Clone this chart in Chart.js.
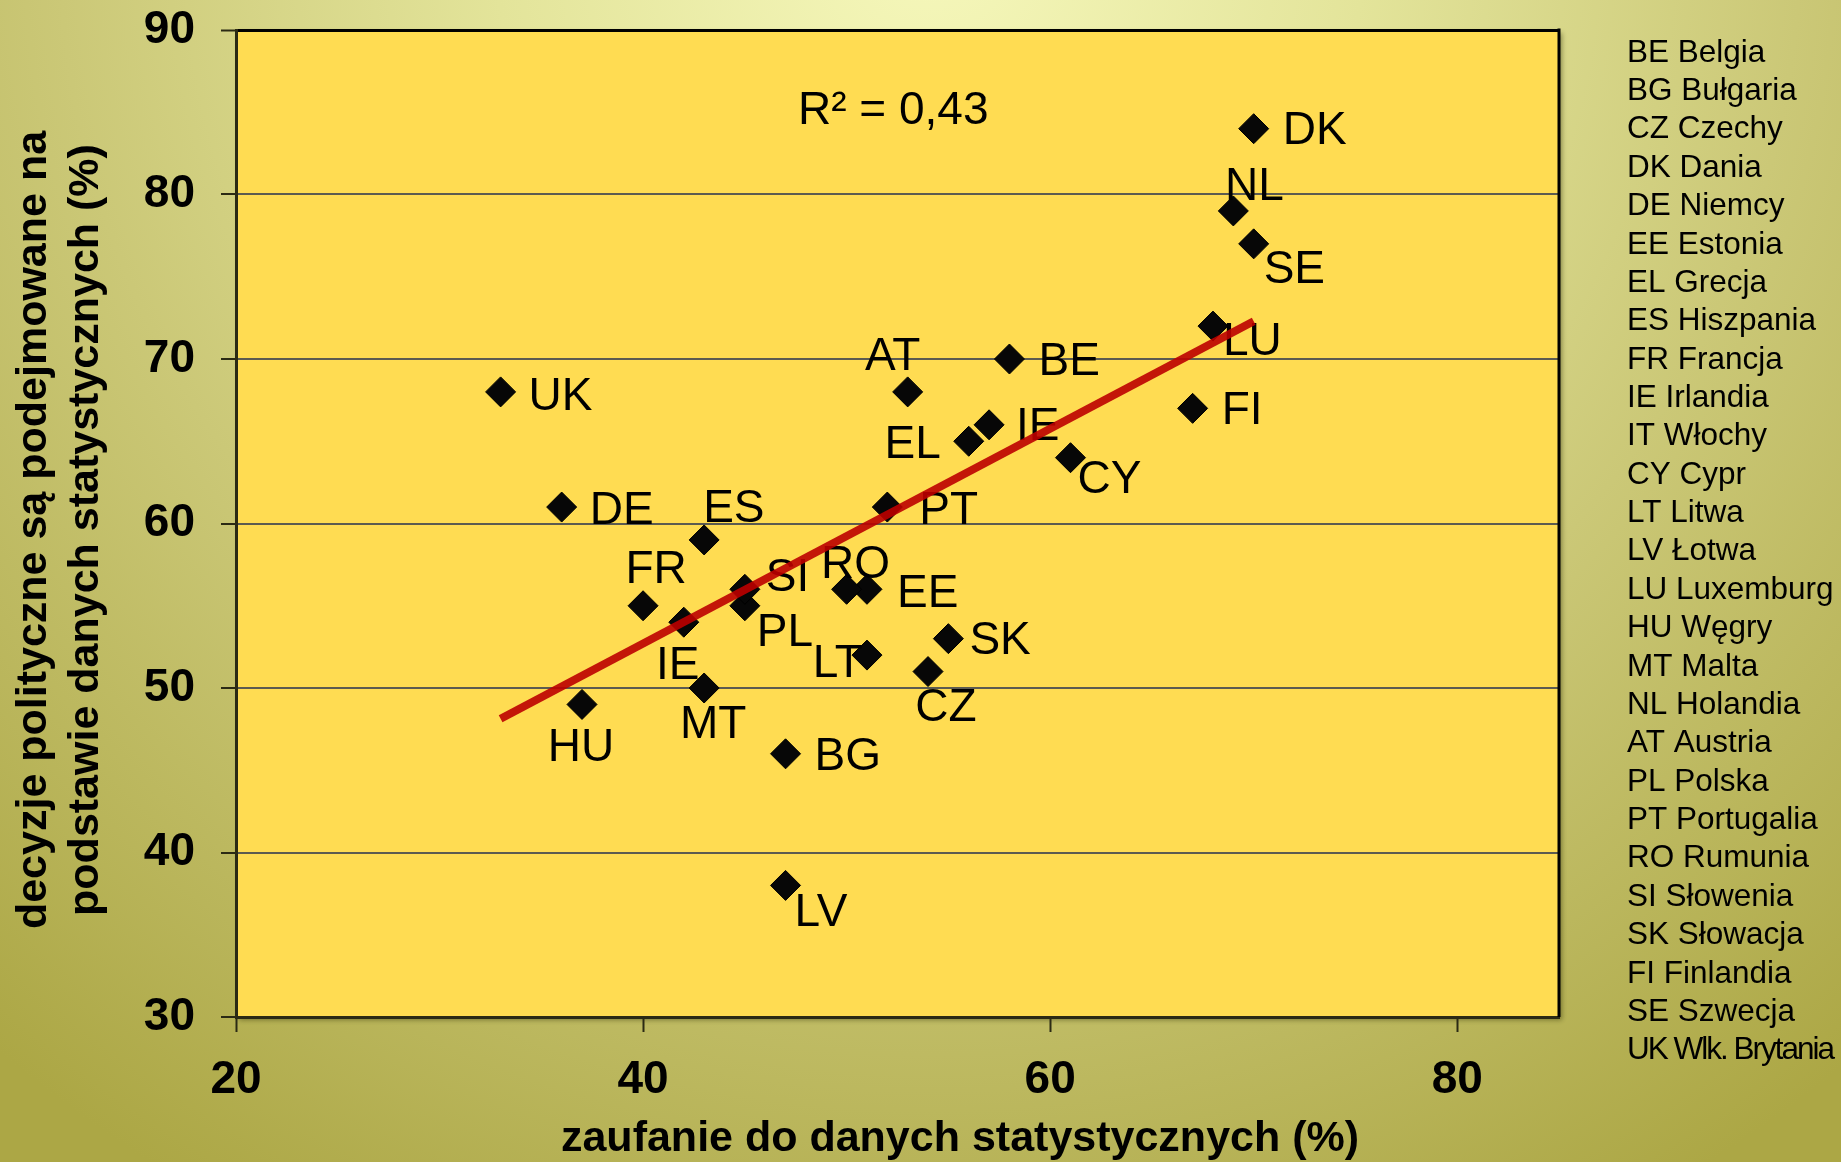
<!DOCTYPE html>
<html lang="pl">
<head>
<meta charset="utf-8">
<title>Zaufanie do danych statystycznych</title>
<script src="https://cdn.jsdelivr.net/npm/chart.js@4.4.1/dist/chart.umd.min.js"></script>
<style>
  html, body { margin: 0; padding: 0; overflow: hidden; background: #c9c57c; }
  canvas { display: block; }
</style>
</head>
<body>
<canvas id="chart" width="1841" height="1162"></canvas>
<script>
// Country codes and names (legend order)
const codes = ['BE','BG','CZ','DK','DE','EE','EL','ES','FR','IE','IT','CY','LT','LV','LU','HU','MT','NL','AT','PL','PT','RO','SI','SK','FI','SE','UK'];
const countryNames = ['Belgia','Bułgaria','Czechy','Dania','Niemcy','Estonia','Grecja','Hiszpania','Francja','Irlandia','Włochy','Cypr','Litwa','Łotwa','Luxemburg','Węgry','Malta','Holandia','Austria','Polska','Portugalia','Rumunia','Słowenia','Słowacja','Finlandia','Szwecja','Wlk. Brytania'];
// Labels written next to the markers
const pointLabels = ['BE','BG','CZ','DK','DE','EE','EL','ES','FR','IE','IE','CY','LT','LV','LU','HU','MT','NL','AT','PL','PT','RO','SI','SK','FI','SE','UK'];

// zaufanie do danych statystycznych (%)
const trustInStatistics = [58, 47, 54, 70, 36, 51, 56, 43, 40, 42, 57, 61, 51, 47, 68, 37, 43, 69, 53, 45, 52, 50, 45, 55, 67, 70, 33];
// decyzje polityczne są podejmowane na podstawie danych statystycznych (%)
const decisionsOnStatistics = [70, 46, 51, 84, 61, 56, 65, 59, 55, 54, 66, 64, 52, 38, 72, 49, 50, 79, 68, 55, 61, 56, 56, 53, 67, 77, 68];

const xTicks = [20, 40, 60, 80];
const yTicks = [30, 40, 50, 60, 70, 80, 90];

const xTitle = 'zaufanie do danych statystycznych (%)';
const yTitleLines = ['decyzje polityczne są podejmowane na', 'podstawie danych statystycznych (%)'];

// Where each code label sits relative to its marker: [align, dx, dy]
const labelPlacement = {
  BE: ['left', 29, 0],   BG: ['left', 29, 1],    CZ: ['center', 18, 34], DK: ['left', 29, 0],
  DE: ['left', 28, 1],   EE: ['left', 30, 2],    EL: ['right', -28, 1],  ES: ['left', -1, -34],
  FR: ['center', 13, -38], IE: ['center', -6, 41], IT: ['left', 27, 0],  CY: ['left', 7, 20],
  LT: ['right', -4, 6],  LV: ['left', 9, 25],    LU: ['left', 10, 13],   HU: ['center', -1, 41],
  MT: ['center', 9, 34], NL: ['center', 21, -27], AT: ['center', -15, -38], PL: ['left', 12, 25],
  PT: ['left', 32, 1],   RO: ['center', 9, -27], SI: ['left', 21, -14],  SK: ['left', 21, 0],
  FI: ['left', 29, 0],   SE: ['left', 10, 23],   UK: ['left', 28, 2]
};
const LABEL_SHIFT = 3;

// Least-squares trend line and its R²
const n = trustInStatistics.length;
const mx = trustInStatistics.reduce((a, b) => a + b, 0) / n;
const my = decisionsOnStatistics.reduce((a, b) => a + b, 0) / n;
let sxy = 0, sxx = 0, syy = 0;
for (let i = 0; i < n; i++) {
  const dx = trustInStatistics[i] - mx, dy = decisionsOnStatistics[i] - my;
  sxy += dx * dy; sxx += dx * dx; syy += dy * dy;
}
const slope = sxy / sxx;
const intercept = my - slope * mx;
const rSquared = (sxy * sxy) / (sxx * syy);
const xMin = Math.min(...trustInStatistics), xMax = Math.max(...trustInStatistics);
const trendPoints = [xMin, xMax].map(x => ({ x, y: intercept + slope * x }));

const points = trustInStatistics.map((x, i) => ({ x, y: decisionsOnStatistics[i] }));

const FONT = "'Liberation Sans', Arial, Helvetica, sans-serif";
const AXIS_DARK = '#2b2a14';

const backdrop = {
  id: 'backdrop',
  beforeDraw(chart) {
    const { ctx, width, height, chartArea: a } = chart;
    ctx.save();
    const g = ctx.createRadialGradient(930, -60, 0, 930, -60, 1450);
    g.addColorStop(0, '#f6f8bc');
    g.addColorStop(0.3, '#e3e49a');
    g.addColorStop(0.6, '#cbc877');
    g.addColorStop(1, '#aca745');
    ctx.fillStyle = g;
    ctx.fillRect(0, 0, width, height);
    ctx.shadowColor = 'rgba(40,40,0,0.45)';
    ctx.shadowBlur = 5;
    ctx.shadowOffsetX = 3;
    ctx.shadowOffsetY = 3;
    ctx.fillStyle = '#ffdc52';
    ctx.fillRect(a.left, a.top, a.right - a.left, a.bottom - a.top);
    ctx.restore();
  }
};

const codeLabels = {
  id: 'codeLabels',
  afterDatasetDraw(chart, args) {
    if (args.index !== 0) return;
    const { ctx } = chart;
    const xs = chart.scales.x, ys = chart.scales.y;
    ctx.save();
    ctx.font = `46px ${FONT}`;
    ctx.fillStyle = '#000';
    ctx.textBaseline = 'middle';
    points.forEach((p, i) => {
      const [align, dx, dy] = labelPlacement[codes[i]];
      ctx.textAlign = align;
      ctx.fillText(pointLabels[i], xs.getPixelForValue(p.x) + dx, ys.getPixelForValue(p.y) + dy + LABEL_SHIFT);
    });
    ctx.restore();
  }
};

const frameAndText = {
  id: 'frameAndText',
  afterDraw(chart) {
    const { ctx, chartArea: a } = chart;
    ctx.save();
    // right edge of the plot frame
    ctx.strokeStyle = '#000';
    ctx.lineWidth = 3;
    ctx.beginPath();
    ctx.moveTo(a.right, a.top - 1.5);
    ctx.lineTo(a.right, a.bottom);
    ctx.stroke();

    ctx.fillStyle = '#000';
    // R² of the trend line
    ctx.font = `46px ${FONT}`;
    ctx.textAlign = 'left';
    ctx.textBaseline = 'middle';
    ctx.fillText('R² = ' + rSquared.toFixed(2).replace('.', ','), 798, 111);

    // axis titles
    ctx.font = `bold 43px ${FONT}`;
    ctx.textAlign = 'center';
    ctx.fillText(xTitle, 960, 1139);
    ctx.save();
    ctx.translate(60, 530);
    ctx.rotate(-Math.PI / 2);
    ctx.fillText(yTitleLines[0], 0, -26);
    ctx.fillText(yTitleLines[1], 0, 26);
    ctx.restore();

    // country legend
    ctx.font = `31.5px ${FONT}`;
    ctx.textAlign = 'left';
    codes.forEach((c, i) => {
      const y = 53 + i * 38.37;
      if (c === 'UK') ctx.letterSpacing = '-2px';
      ctx.fillText(c + ' ' + countryNames[i], 1627, y);
      ctx.letterSpacing = '0px';
    });
    ctx.restore();
  }
};

new Chart(document.getElementById('chart'), {
  data: {
    datasets: [
      {
        type: 'scatter',
        data: points,
        order: 1,
        pointStyle: 'rectRot',
        pointRadius: 15,
        pointBackgroundColor: '#070707',
        pointBorderColor: '#000',
        pointBorderWidth: 1
      },
      {
        type: 'line',
        data: trendPoints,
        order: 0,
        borderColor: 'rgba(188,0,0,0.9)',
        borderWidth: 8,
        pointRadius: 0,
        fill: false,
        tension: 0
      }
    ]
  },
  options: {
    responsive: false,
    animation: false,
    devicePixelRatio: 1,
    events: [],
    layout: { padding: { top: 30, right: 282, left: 0, bottom: 0 } },
    plugins: { legend: { display: false }, tooltip: { enabled: false }, title: { display: false } },
    scales: {
      x: {
        type: 'linear',
        min: 20,
        max: 85,
        afterBuildTicks(s) { s.ticks = xTicks.map(v => ({ value: v })); },
        afterFit(s) { s.height = 145; s.paddingLeft = 0; s.paddingRight = 0; },
        grid: { drawOnChartArea: false, drawTicks: true, tickLength: 15, tickColor: AXIS_DARK, tickWidth: 2 },
        border: { display: true, color: AXIS_DARK, width: 3 },
        ticks: { padding: 21, color: '#000', font: { family: FONT, size: 46, weight: 'bold' }, maxRotation: 0 }
      },
      y: {
        type: 'linear',
        min: 30,
        max: 90,
        afterBuildTicks(s) { s.ticks = yTicks.map(v => ({ value: v })); },
        afterFit(s) { s.width = 236; s.paddingTop = 0; s.paddingBottom = 0; },
        grid: {
          drawOnChartArea: true,
          tickLength: 15,
          tickColor: AXIS_DARK,
          tickWidth: 2,
          color: c => (c.tick && c.tick.value === 90) ? '#000' : '#5c5b50',
          lineWidth: c => (c.tick && c.tick.value === 90) ? 3 : 2
        },
        border: { display: true, color: AXIS_DARK, width: 3 },
        ticks: { padding: 26, color: '#000', font: { family: FONT, size: 46, weight: 'bold' } }
      }
    }
  },
  plugins: [backdrop, codeLabels, frameAndText]
});
</script>
</body>
</html>
